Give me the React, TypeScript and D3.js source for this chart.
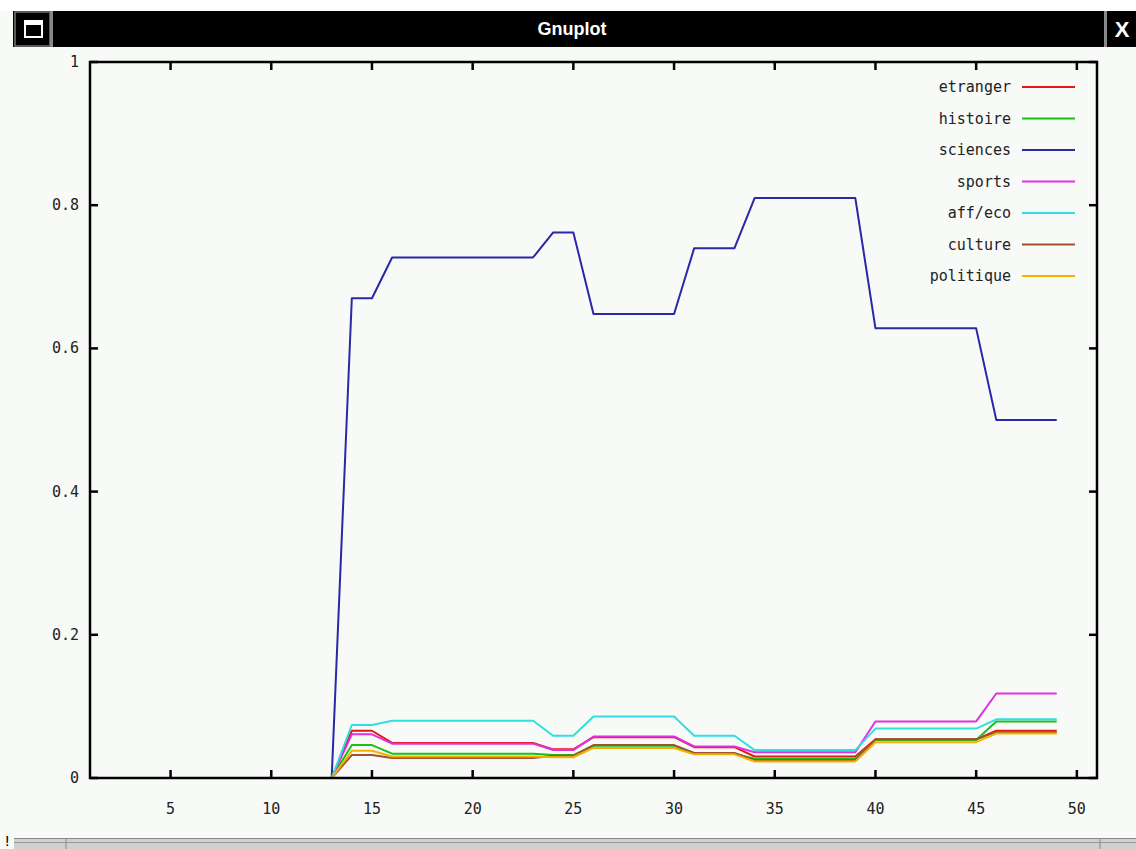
import React from "react";
import * as d3 from "d3";

const xValues = [
  1, 2, 3, 4, 5, 6, 7, 8, 9, 10, 11, 12, 13, 14, 15, 16, 17, 18, 19, 20, 21, 22, 23, 24, 25,
  26, 27, 28, 29, 30, 31, 32, 33, 34, 35, 36, 37, 38, 39, 40, 41, 42, 43, 44, 45, 46, 47, 48, 49,
];

const etranger = [
  0, 0, 0, 0, 0, 0, 0, 0, 0, 0, 0, 0, 0,
  0.066, 0.066,
  0.049, 0.049, 0.049, 0.049, 0.049, 0.049, 0.049, 0.049,
  0.04, 0.04,
  0.057, 0.057, 0.057, 0.057, 0.057,
  0.043, 0.043, 0.043,
  0.03, 0.03, 0.03, 0.03, 0.03, 0.03,
  0.054, 0.054, 0.054, 0.054, 0.054, 0.054,
  0.066, 0.066, 0.066, 0.066,
];

const histoire = [
  0, 0, 0, 0, 0, 0, 0, 0, 0, 0, 0, 0, 0,
  0.046, 0.046,
  0.034, 0.034, 0.034, 0.034, 0.034, 0.034, 0.034, 0.034,
  0.032, 0.032,
  0.045, 0.045, 0.045, 0.045, 0.045,
  0.034, 0.034, 0.034,
  0.027, 0.027, 0.027, 0.027, 0.027, 0.027,
  0.053, 0.053, 0.053, 0.053, 0.053, 0.053,
  0.079, 0.079, 0.079, 0.079,
];

const sciences = [
  0, 0, 0, 0, 0, 0, 0, 0, 0, 0, 0, 0, 0,
  0.67, 0.67,
  0.727, 0.727, 0.727, 0.727, 0.727, 0.727, 0.727, 0.727,
  0.762, 0.762,
  0.648, 0.648, 0.648, 0.648, 0.648,
  0.74, 0.74, 0.74,
  0.81, 0.81, 0.81, 0.81, 0.81, 0.81,
  0.628, 0.628, 0.628, 0.628, 0.628, 0.628,
  0.5, 0.5, 0.5, 0.5,
];

const sports = [
  0, 0, 0, 0, 0, 0, 0, 0, 0, 0, 0, 0, 0,
  0.061, 0.061,
  0.048, 0.048, 0.048, 0.048, 0.048, 0.048, 0.048, 0.048,
  0.039, 0.039,
  0.058, 0.058, 0.058, 0.058, 0.058,
  0.044, 0.044, 0.044,
  0.036, 0.036, 0.036, 0.036, 0.036, 0.036,
  0.079, 0.079, 0.079, 0.079, 0.079, 0.079,
  0.118, 0.118, 0.118, 0.118,
];

const affEco = [
  0, 0, 0, 0, 0, 0, 0, 0, 0, 0, 0, 0, 0,
  0.074, 0.074,
  0.08, 0.08, 0.08, 0.08, 0.08, 0.08, 0.08, 0.08,
  0.059, 0.059,
  0.086, 0.086, 0.086, 0.086, 0.086,
  0.059, 0.059, 0.059,
  0.039, 0.039, 0.039, 0.039, 0.039, 0.039,
  0.069, 0.069, 0.069, 0.069, 0.069, 0.069,
  0.082, 0.082, 0.082, 0.082,
];

const culture = [
  0, 0, 0, 0, 0, 0, 0, 0, 0, 0, 0, 0, 0,
  0.032, 0.032,
  0.028, 0.028, 0.028, 0.028, 0.028, 0.028, 0.028, 0.028,
  0.031, 0.031,
  0.046, 0.046, 0.046, 0.046, 0.046,
  0.035, 0.035, 0.035,
  0.025, 0.025, 0.025, 0.025, 0.025, 0.025,
  0.054, 0.054, 0.054, 0.054, 0.054, 0.054,
  0.064, 0.064, 0.064, 0.064,
];

const politique = [
  0, 0, 0, 0, 0, 0, 0, 0, 0, 0, 0, 0, 0,
  0.038, 0.038,
  0.03, 0.03, 0.03, 0.03, 0.03, 0.03, 0.03, 0.03,
  0.029, 0.029,
  0.042, 0.042, 0.042, 0.042, 0.042,
  0.033, 0.033, 0.033,
  0.023, 0.023, 0.023, 0.023, 0.023, 0.023,
  0.05, 0.05, 0.05, 0.05, 0.05, 0.05,
  0.062, 0.062, 0.062, 0.062,
];

const seriesNames = ["etranger", "histoire", "sciences", "sports", "aff/eco", "culture", "politique"];
const seriesColors = ["#e01818", "#18c018", "#2828a8", "#e030e0", "#30e0e0", "#a0522d", "#f0b400"];
const seriesValues = [etranger, histoire, sciences, sports, affEco, culture, politique];

const xTicks = [5, 10, 15, 20, 25, 30, 35, 40, 45, 50];
const yTicks = [0, 0.2, 0.4, 0.6, 0.8, 1];
const yTickLabels = ["0", "0.2", "0.4", "0.6", "0.8", "1"];

const W = 1136;
const H = 849;
const L = 90;
const R = 1097;
const T = 62;
const B = 778;

export default function App() {
  const x = d3.scaleLinear().domain([1, 51]).range([L, R]);
  const y = d3.scaleLinear().domain([0, 1]).range([B, T]);
  const line = d3
    .line<number>()
    .x((_, i) => x(xValues[i]))
    .y((d) => y(d));

  const mono = "'DejaVu Sans Mono', 'Liberation Mono', monospace";
  const tickLen = 8;

  return (
    <div style={{ position: "absolute", left: 0, top: 0 }}>
      <svg width={W} height={H} style={{ display: "block" }}>
        <rect x={0} y={0} width={W} height={H} fill="#f7faf7" />
        <rect x={0} y={0} width={W} height={11} fill="#ffffff" />
        {/* title bar */}
        <rect x={13} y={11} width={W - 13} height={36} fill="#000" />
        <rect x={15} y={12} width={35} height={34} fill="#000" stroke="#777" strokeWidth={1.5} />
        <rect x={25} y={21} width={17} height={16} fill="#000" stroke="#fff" strokeWidth={2} />
        <rect x={25} y={21} width={17} height={4} fill="#fff" />
        <rect x={50} y={11} width={3} height={36} fill="#888" />
        <text
          x={572}
          y={35}
          textAnchor="middle"
          fill="#fff"
          fontFamily="'Liberation Sans Narrow', 'Liberation Sans', Arial, sans-serif"
          fontWeight="bold"
          fontSize={18}
        >
          Gnuplot
        </text>
        <rect x={1104} y={11} width={3} height={36} fill="#888" />
        <text
          x={1122}
          y={37}
          textAnchor="middle"
          fill="#fff"
          fontFamily="'Liberation Sans', Arial, sans-serif"
          fontWeight="bold"
          fontSize={22}
        >
          X
        </text>

        {/* series */}
        {seriesValues.map((vals, i) => (
          <path
            key={seriesNames[i]}
            d={line(vals) || ""}
            fill="none"
            stroke={seriesColors[i]}
            strokeWidth={2}
            strokeLinejoin="round"
          />
        ))}

        {/* frame */}
        <rect x={L} y={T} width={R - L} height={B - T} fill="none" stroke="#000" strokeWidth={2.5} />

        {/* x ticks */}
        {xTicks.map((t) => (
          <g key={"xt" + t}>
            <line x1={x(t)} x2={x(t)} y1={B} y2={B - tickLen} stroke="#000" strokeWidth={2.5} />
            <line x1={x(t)} x2={x(t)} y1={T} y2={T + tickLen} stroke="#000" strokeWidth={2.5} />
            <text
              x={x(t)}
              y={814}
              textAnchor="middle"
              fontFamily={mono}
              fontSize={15}
              fill="#222"
            >
              {String(t)}
            </text>
          </g>
        ))}

        {/* y ticks */}
        {yTicks.map((t, i) => (
          <g key={"yt" + t}>
            <line x1={L} x2={L + tickLen} y1={y(t)} y2={y(t)} stroke="#000" strokeWidth={2.5} />
            <line x1={R} x2={R - tickLen} y1={y(t)} y2={y(t)} stroke="#000" strokeWidth={2.5} />
            <text
              x={79}
              y={y(t) + 5}
              textAnchor="end"
              fontFamily={mono}
              fontSize={15}
              fill="#222"
            >
              {yTickLabels[i]}
            </text>
          </g>
        ))}

        {/* legend */}
        {seriesNames.map((name, i) => {
          const cy = 87 + i * 31.5;
          return (
            <g key={"lg" + name}>
              <text
                x={1011}
                y={cy + 5}
                textAnchor="end"
                fontFamily={mono}
                fontSize={15}
                fill="#222"
              >
                {name}
              </text>
              <line x1={1022} x2={1075} y1={cy} y2={cy} stroke={seriesColors[i]} strokeWidth={2} />
            </g>
          );
        })}

        {/* bottom strip */}
        <text x={3} y={846} fontFamily={mono} fontSize={14} fill="#000">
          !
        </text>
        <rect x={14} y={838} width={W - 14} height={11} fill="#d0d0d0" />
        <line x1={14} x2={W} y1={838.5} y2={838.5} stroke="#888" strokeWidth={1} />
        <line x1={14} x2={W} y1={842.5} y2={842.5} stroke="#999" strokeWidth={1} />
        <line x1={66} x2={66} y1={839} y2={849} stroke="#888" strokeWidth={1} />
        <line x1={1100} x2={1100} y1={839} y2={849} stroke="#888" strokeWidth={1} />
      </svg>
    </div>
  );
}
